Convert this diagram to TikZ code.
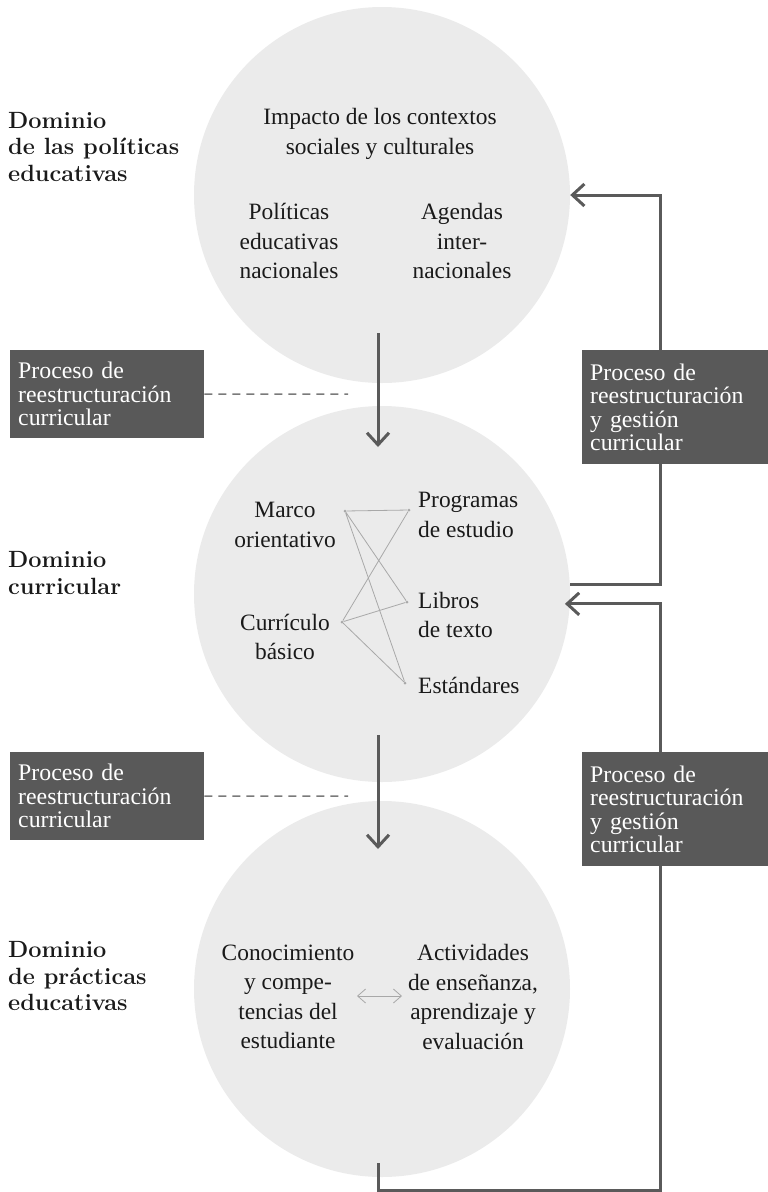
\documentclass[tikz,border=0pt]{standalone}
\usepackage{fontspec}
\newfontfamily\bodyfont{Liberation Serif}
\usetikzlibrary{arrows.meta}

\definecolor{circ}{HTML}{EBEBEB}
\definecolor{boxgray}{HTML}{595959}
\definecolor{flowgray}{HTML}{5A5A5A}
\definecolor{linkgray}{HTML}{A8A8A8}
\definecolor{dashgray}{HTML}{7A7A7A}
\definecolor{ink}{HTML}{1A1A1A}

\begin{document}
\begin{tikzpicture}[x=1pt,y=-1pt,
	domcircle/.style={circle,fill=circ,minimum size=376pt,inner sep=0pt},
	txt/.style={align=center,inner sep=0pt,text=ink,font=\bodyfont\fontsize{23.4}{29.5}\selectfont},
	lbl/.style={align=left,anchor=west,inner sep=0pt,text=ink,font=\fontsize{23.5}{26.5}\selectfont\bfseries},
	procbox/.style={fill=boxgray,text=white,align=left,anchor=north west,inner xsep=8pt,font=\bodyfont\fontsize{23.8}{23.5}\selectfont},
	flow/.style={draw=flowgray,line width=3pt},
	flowtip/.style={-{Straight Barb[length=12pt,width=22pt]}},
	link/.style={draw=linkgray,line width=0.8pt},
	dot/.style={circle,fill=linkgray,inner sep=0pt,minimum size=3pt},
	guide/.style={draw=dashgray,line width=1.5pt,dash pattern=on 8pt off 6pt}]
	\useasboundingbox (0,0) rectangle (768,1192);
	\node[domcircle] (pol) at (382,195) {};
	\node[domcircle] (cur) at (382,594) {};
	\node[domcircle] (prac) at (382,989) {};

	\node[lbl] (lpol) at (8,147) {Dominio\\de las políticas\\educativas};
	\node[lbl] (lcur) at (8,573) {Dominio\\curricular};
	\node[lbl] (lprac) at (8,976) {Dominio\\de prácticas\\educativas};

	\node[txt] (impacto) at (380,134) {Impacto de los contextos\\sociales y culturales};
	\node[txt] (nacion) at (289,241) {Políticas\\educativas\\nacionales};
	\node[txt] (agendas) at (462,241) {Agendas\\inter-\\nacionales};

	\node[txt] (marco) at (285,525) {Marco\\orientativo};
	\node[txt] (basico) at (285,637) {Currículo\\básico};
	\node[txt,align=left,anchor=west] (prog) at (418,515) {Programas\\de estudio};
	\node[txt,align=left,anchor=west] (libros) at (418,615) {Libros\\de texto};
	\node[txt,align=left,anchor=base west] (estand) at (418,693) {Estándares};
	\node[dot] (marcod) at (345,511) {};
	\node[dot] (basicod) at (342,622) {};
	\node[dot] (progd) at (409,510) {};
	\node[dot] (librosd) at (407,602) {};
	\node[dot] (estandd) at (405,683) {};
	\draw[link] (marcod) -- (progd) (marcod) -- (librosd) (marcod) -- (estandd);
	\draw[link] (basicod) -- (progd) (basicod) -- (librosd) (basicod) -- (estandd);

	\node[txt] (conoc) at (288,997) {Conocimiento\\y compe-\\tencias del\\estudiante};
	\node[txt] (activ) at (473,997) {Actividades\\de enseñanza,\\aprendizaje y\\evaluación};
	\draw[link,{Straight Barb[length=8pt,width=14pt]}-{Straight Barb[length=8pt,width=14pt]}] (357,996) -- (402,996);

	\coordinate (down1) at (378,333);
	\coordinate (down1e) at (378,447);
	\coordinate (down2) at (378,735);
	\coordinate (down2e) at (378,849);
	\draw[flow,flowtip] (down1) -- (down1e);
	\draw[flow,flowtip] (down2) -- (down2e);

	\coordinate (up1) at (660,195);
	\coordinate (base) at (378,1163);
	\coordinate (up2) at (660,1190);
	\draw[flow,flowtip] (cur.3) -| (up1) -- (pol.east);
	\draw[flow,flowtip] (base) |- (up2) |- ([xshift=-5pt]cur.-3);

	\node[procbox,text width=178pt,minimum height=88pt] (proc1) at (10,350) {Proceso de\\reestructuración\\curricular};
	\node[procbox,text width=178pt,minimum height=88pt] (proc2) at (10,752) {Proceso de\\reestructuración\\curricular};
	\node[procbox,text width=170pt,minimum height=114pt] (gest1) at (582,350) {Proceso de\\reestructuración\\y gestión\\curricular};
	\node[procbox,text width=170pt,minimum height=114pt] (gest2) at (582,752) {Proceso de\\reestructuración\\y gestión\\curricular};
	\coordinate (guide1) at (348,394);
	\coordinate (guide2) at (348,796);
	\draw[guide] (proc1.east) -- (guide1);
	\draw[guide] (proc2.east) -- (guide2);
\end{tikzpicture}
\end{document}
